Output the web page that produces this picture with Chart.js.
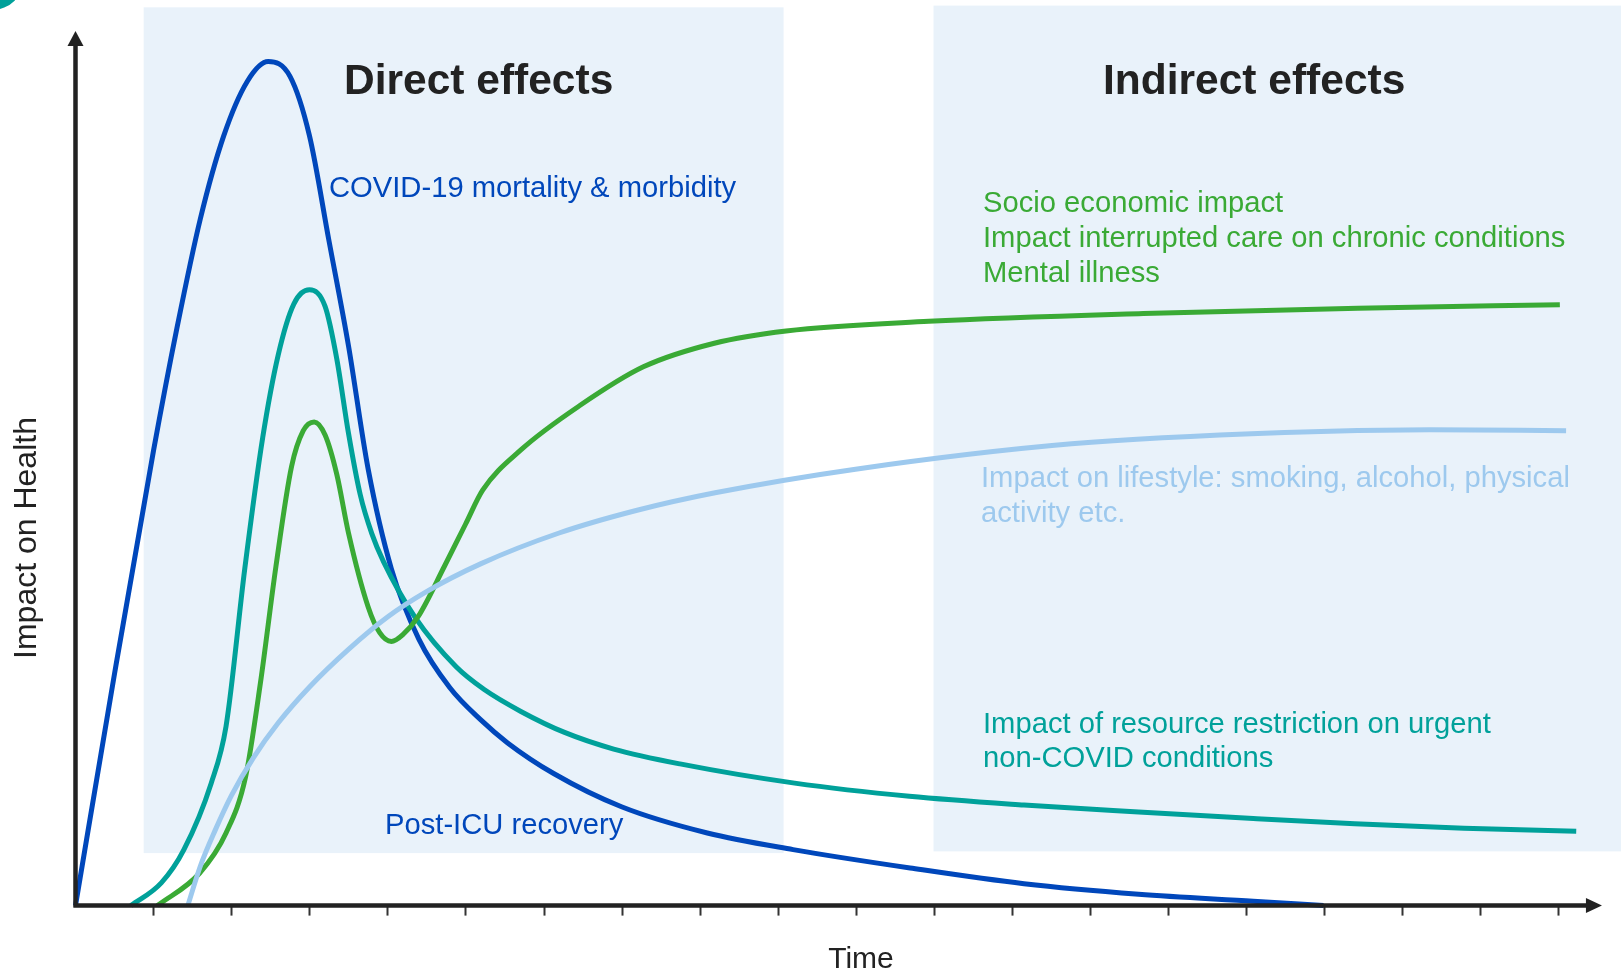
<!DOCTYPE html>
<html>
<head>
<meta charset="utf-8">
<script src="https://cdn.jsdelivr.net/npm/chart.js@4"></script>
<style>
  html, body { margin: 0; padding: 0; background: #fff; }
  #wrap { width: 1621px; height: 972px; }
</style>
</head>
<body>
<div id="wrap"><canvas id="impactChart" width="1621" height="972"></canvas></div>
<script>
// x = time (one unit per tick), y = impact on health (100 = tip of the arrow)
const covidTime   = [0, 0.5, 1.0, 1.3, 1.6, 1.9, 2.2, 2.47, 2.75, 3.0, 3.25, 3.5, 3.75, 4.05, 4.4, 4.8, 5.2, 5.54, 6.13, 7.0, 8.1, 9.2, 10.7, 12.16, 13.63, 15.1, 16.0];
const covidImpact = [0, 26.5, 52, 66, 78.5, 88, 94.2, 96.5, 94.8, 88, 76, 64, 50, 38.5, 30.5, 24.9, 21.2, 18.6, 15.1, 11.3, 8.3, 6.4, 4.3, 2.5, 1.3, 0.5, 0];

const resourceTime   = [0.71, 1.1, 1.39, 1.74, 1.93, 2.17, 2.4, 2.6, 2.8, 3.0, 3.2, 3.35, 3.5, 3.65, 3.8, 3.95, 4.35, 4.88, 5.24, 5.71, 6.27, 6.9, 7.75, 9.22, 10.69, 12.16, 13.63, 15.1, 16.4, 17.8, 19.24];
const resourceImpact = [0, 2.6, 6.4, 14.0, 20.5, 38.5, 53.5, 63, 68.8, 70.4, 68.5, 62.5, 54, 47, 42.5, 39.3, 33, 27.3, 24.7, 22.2, 19.8, 17.9, 16.2, 14.0, 12.5, 11.5, 10.7, 9.95, 9.35, 8.85, 8.5];

const socioTime   = [1.05, 1.59, 1.93, 2.18, 2.37, 2.57, 2.77, 2.92, 3.06, 3.2, 3.35, 3.5, 3.75, 3.9, 4.05, 4.2, 4.39, 4.73, 5.0, 5.22, 5.71, 6.47, 7.28, 8.19, 9.11, 10.94, 13.69, 16.44, 19.03];
const socioImpact = [0, 3.7, 8.3, 14.7, 25.4, 38.8, 50.2, 54.3, 55.3, 53.8, 49.3, 42.6, 34.2, 31.2, 30.2, 31.0, 33.0, 38.8, 43.6, 47.5, 52.1, 57.2, 61.6, 64.3, 65.7, 66.8, 67.7, 68.3, 68.7];

const lifestyleTime   = [1.44, 1.6, 1.79, 2.0, 2.28, 2.6, 3.0, 3.5, 4.0, 4.5, 5.2, 6.2, 7.2, 8.2, 10.0, 12.77, 15.5, 17.36, 19.11];
const lifestyleImpact = [0, 4.5, 8.6, 12.6, 16.9, 20.9, 25.0, 29.3, 33.0, 35.9, 39.1, 42.6, 45.2, 47.2, 49.9, 52.8, 54.1, 54.4, 54.3];

const timeTicks = [1, 2, 3, 4, 5, 6, 7, 8, 9, 10, 11, 12, 13, 14, 15, 16, 17, 18, 19];

// shaded periods: [from, to] on time, [bottom, top] on impact
const directPeriod   = { from: 0.874, to: 9.078, bottom: 6.0, top: 102.7 };
const indirectPeriod = { from: 11.0, to: 19.9, bottom: 6.2, top: 102.9 };

const BLUE = "#0047bb";
const TEAL = "#00a19a";
const GREEN = "#3aaa35";
const LIGHT = "#9dc9ee";
const FONT = '"Liberation Sans", Arial, sans-serif';

const toPoints = (xs, ys) => xs.map((v, i) => ({ x: v, y: ys[i] }));

// ===============================
// boxes, axes and text
// ===============================
const overlay = {
  id: "overlay",
  beforeDatasetsDraw(chart) {
    const { ctx, scales: { x, y } } = chart;
    ctx.save();
    ctx.fillStyle = "#e9f2fa";
    [directPeriod, indirectPeriod].forEach((p) => {
      const x0 = x.getPixelForValue(p.from);
      const x1 = x.getPixelForValue(p.to);
      const y0 = y.getPixelForValue(p.top);
      const y1 = y.getPixelForValue(p.bottom);
      ctx.fillRect(x0, y0, x1 - x0, y1 - y0);
    });
    // little teal mark in the corner
    ctx.fillStyle = TEAL;
    ctx.beginPath();
    ctx.arc(-8, -22, 32, 0, Math.PI * 2);
    ctx.fill();
    ctx.restore();
  },
  afterDatasetsDraw(chart) {
    const { ctx, scales: { x, y } } = chart;
    const ox = x.getPixelForValue(0);
    const oy = y.getPixelForValue(0);
    const yTip = y.getPixelForValue(100);
    const xTip = x.getPixelForValue(19.57);

    ctx.save();
    // tick marks
    ctx.strokeStyle = "#333";
    ctx.lineWidth = 2;
    timeTicks.forEach((t) => {
      const px = Math.round(x.getPixelForValue(t)) + 0.5;
      ctx.beginPath();
      ctx.moveTo(px, oy);
      ctx.lineTo(px, oy + 10);
      ctx.stroke();
    });

    // axis lines
    ctx.strokeStyle = "#222";
    ctx.fillStyle = "#222";
    ctx.lineWidth = 4.5;
    ctx.beginPath();
    ctx.moveTo(ox, oy + 2);
    ctx.lineTo(ox, yTip + 14);
    ctx.moveTo(ox - 2, oy);
    ctx.lineTo(xTip - 14, oy);
    ctx.stroke();

    // arrow heads
    ctx.beginPath();
    ctx.moveTo(ox, yTip);
    ctx.lineTo(ox - 8, yTip + 15);
    ctx.lineTo(ox + 8, yTip + 15);
    ctx.closePath();
    ctx.fill();
    ctx.beginPath();
    ctx.moveTo(xTip, oy);
    ctx.lineTo(xTip - 16, oy - 7.5);
    ctx.lineTo(xTip - 16, oy + 7.5);
    ctx.closePath();
    ctx.fill();

    // headings
    ctx.textBaseline = "alphabetic";
    ctx.textAlign = "left";
    ctx.font = `bold 42.5px ${FONT}`;
    ctx.fillStyle = "#222";
    ctx.fillText("Direct effects", 344, 94);
    ctx.fillText("Indirect effects", 1103, 94);

    // series labels
    ctx.font = `29.2px ${FONT}`;
    ctx.fillStyle = BLUE;
    ctx.fillText("COVID-19 mortality & morbidity", 329, 197);
    ctx.fillText("Post-ICU recovery", 385, 834);

    ctx.fillStyle = GREEN;
    ctx.fillText("Socio economic impact", 983, 212);
    ctx.fillText("Impact interrupted care on chronic conditions", 983, 247);
    ctx.fillText("Mental illness", 983, 282);

    ctx.fillStyle = LIGHT;
    ctx.fillText("Impact on lifestyle: smoking, alcohol, physical", 981, 487);
    ctx.fillText("activity etc.", 981, 522);

    ctx.fillStyle = TEAL;
    ctx.fillText("Impact of resource restriction on urgent", 983, 733);
    ctx.fillText("non-COVID conditions", 983, 767);

    // axis titles
    ctx.fillStyle = "#222";
    ctx.textAlign = "center";
    ctx.font = `30px ${FONT}`;
    ctx.fillText("Time", 861, 968);
    ctx.font = `32px ${FONT}`;
    ctx.translate(36, 538);
    ctx.rotate(-Math.PI / 2);
    ctx.fillText("Impact on Health", 0, 0);
    ctx.restore();
  },
};

const lineStyle = (color) => ({
  borderColor: color,
  backgroundColor: color,
  borderWidth: 5,
  borderCapStyle: "butt",
  pointRadius: 0,
  fill: false,
  cubicInterpolationMode: "monotone",
});

new Chart(document.getElementById("impactChart"), {
  type: "line",
  data: {
    datasets: [
      { label: "Impact on lifestyle", data: toPoints(lifestyleTime, lifestyleImpact), ...lineStyle(LIGHT) },
      { label: "Socio economic impact", data: toPoints(socioTime, socioImpact), ...lineStyle(GREEN) },
      { label: "Resource restriction", data: toPoints(resourceTime, resourceImpact), ...lineStyle(TEAL) },
      { label: "COVID-19 mortality & morbidity", data: toPoints(covidTime, covidImpact), ...lineStyle(BLUE) },
    ],
  },
  options: {
    responsive: false,
    devicePixelRatio: 1,
    animation: false,
    layout: { padding: 0 },
    plugins: { legend: { display: false }, tooltip: { enabled: false } },
    scales: {
      x: { type: "linear", min: -0.9679, max: 19.814, display: false },
      y: { type: "linear", min: -7.592, max: 103.54, display: false },
    },
  },
  plugins: [overlay],
});
</script>
</body>
</html>
